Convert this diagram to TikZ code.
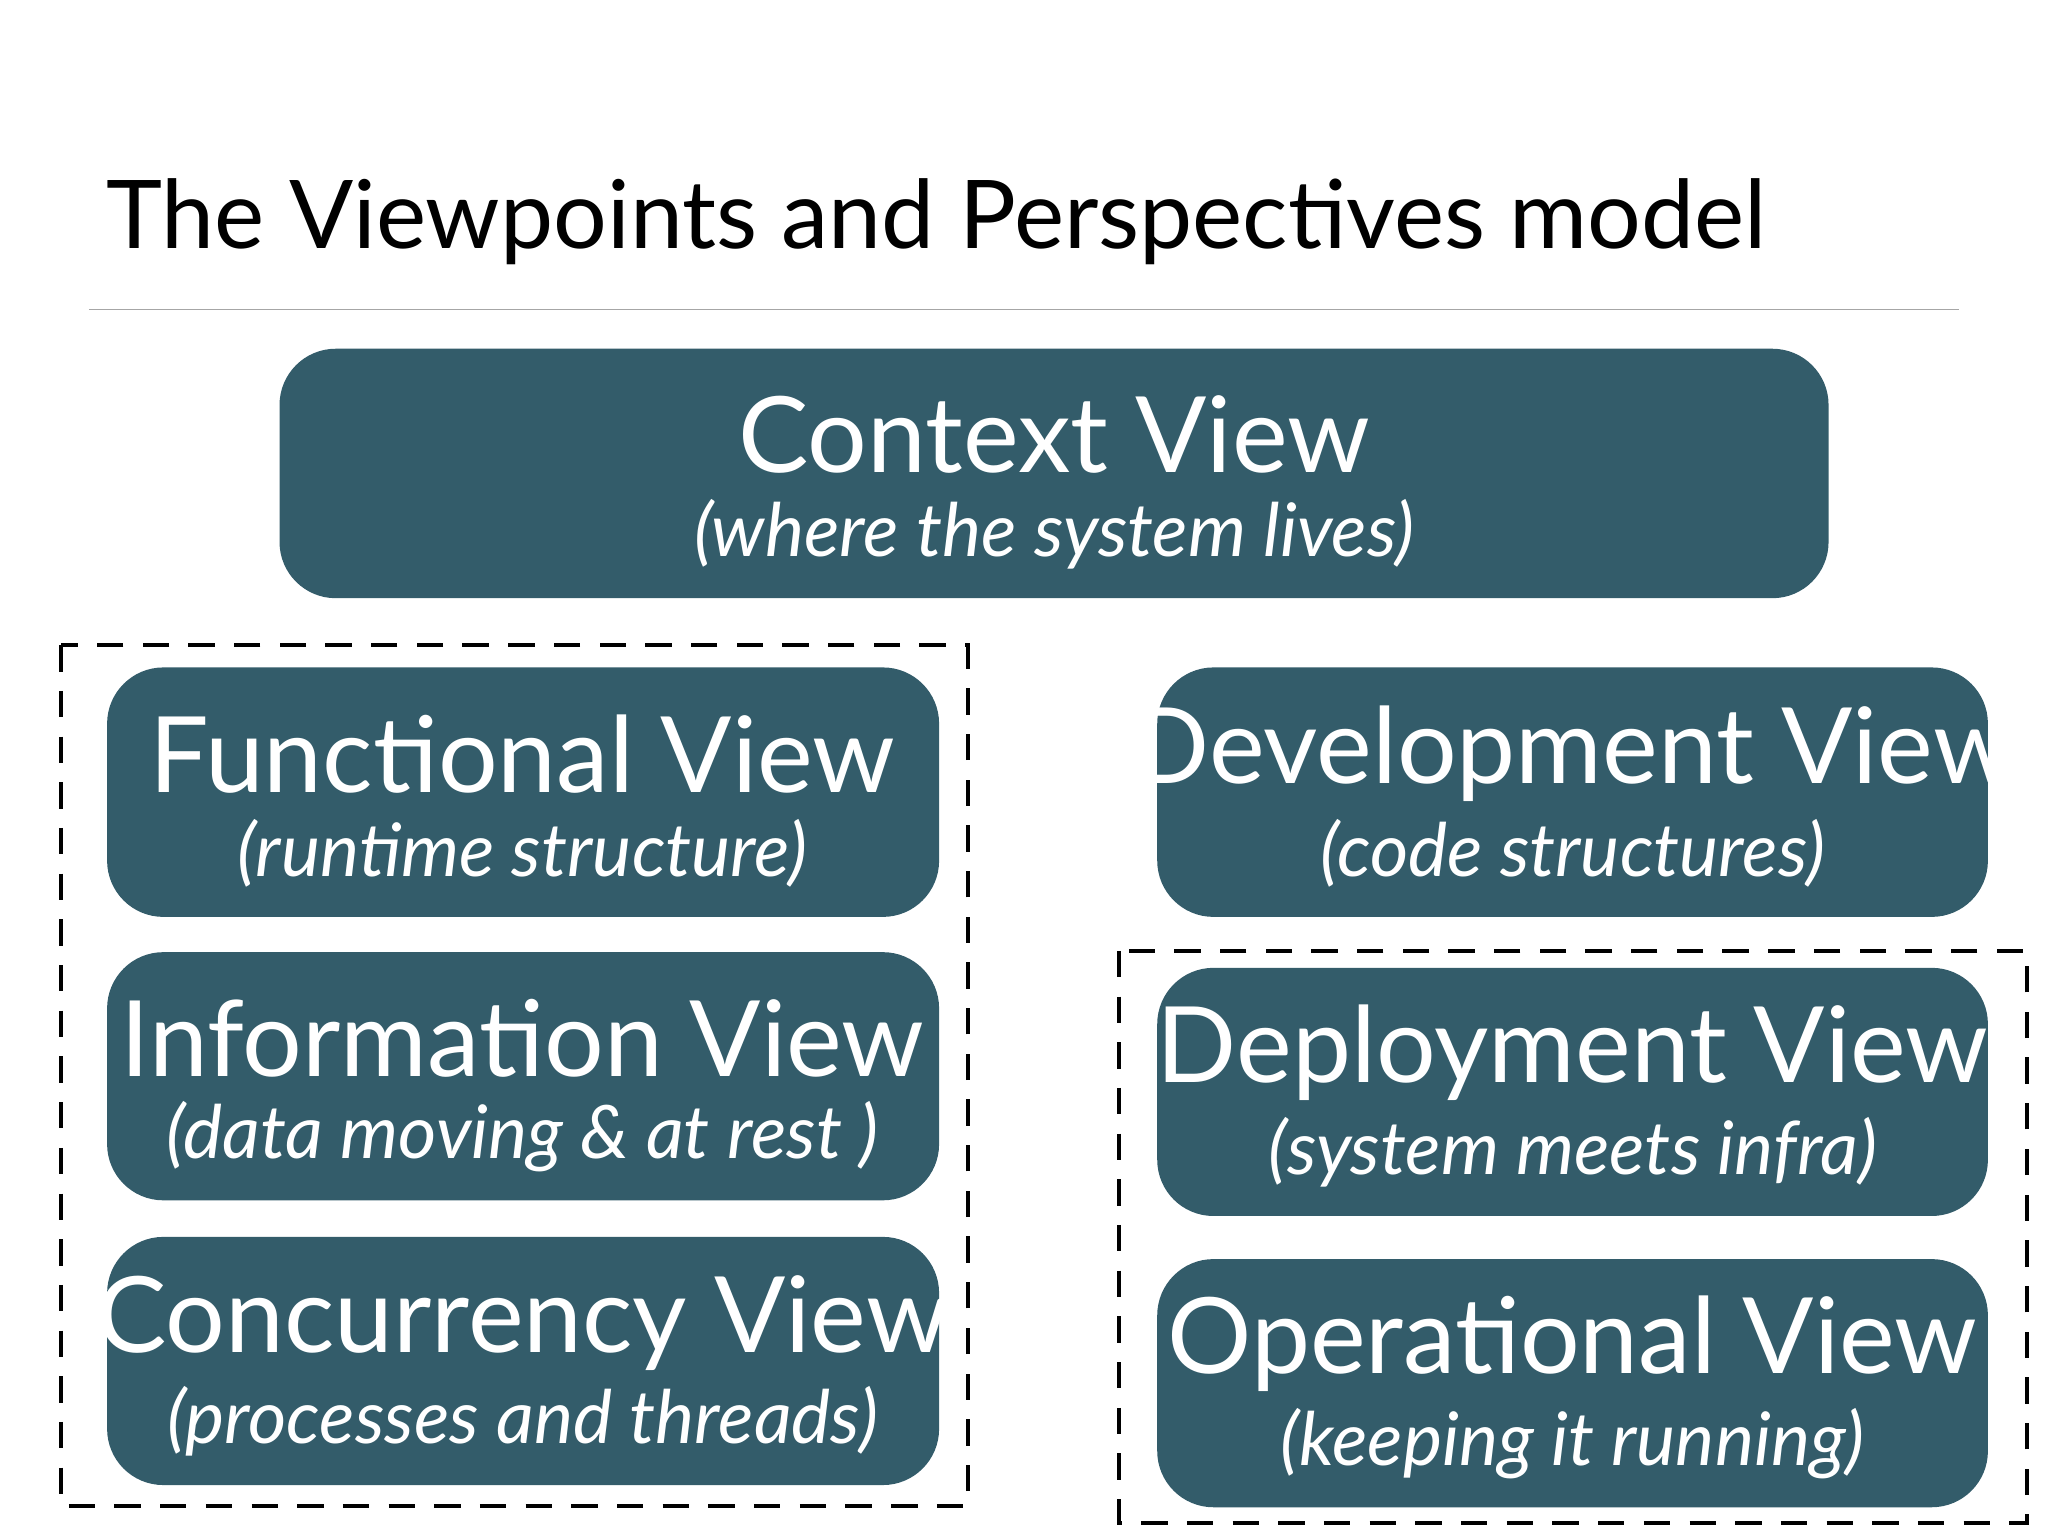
\documentclass[tikz,border=0pt]{standalone}
\usepackage{fontspec}
\setmainfont{Lato}
\begin{document}
\begin{tikzpicture}[x=0.013061cm,y=-0.013061cm,
  box/.style={fill=boxc,draw=none,rounded corners=16pt,text=white},
  dashbox/.style={draw=black,line width=1.2pt,dash pattern=on 7.5pt off 5.5pt},
  ttl/.style={text=white,font=\fontsize{30}{34}\selectfont},
  sub/.style={text=white,font=\fontsize{21}{25}\selectfont\itshape}]
\definecolor{boxc}{HTML}{335C6A}
\useasboundingbox (0,0) rectangle (1568,1176);
\node[anchor=base west,font=\fontsize{27}{32}\selectfont] (title) at (72,190) {The Viewpoints and Perspectives model};
\draw[gray!70,line width=0.5pt] (68,237) coordinate (l1) -- (1500,237) coordinate (l2);
\draw[dashbox] (47,494) rectangle (741,1153);
\draw[dashbox] (857,728) rectangle (1552,1166);
\fill[box] (214,267) rectangle (1400,458);
\node[ttl] (ctx) at (807,333) {Context View};
\node[sub] (ctxs) at (807,409) {(where the system lives)};
\fill[box] (82,511) rectangle (719,702);
\node[ttl] (fun) at (400,577) {Functional View};
\node[sub] (funs) at (400,653) {(runtime structure)};
\fill[box] (82,729) rectangle (719,919);
\node[ttl] (inf) at (400,795) {Information View};
\node[sub] (infs) at (400,870) {(data moving \& at rest )};
\fill[box] (82,947) rectangle (719,1137);
\node[ttl] (con) at (400,1013) {Concurrency View};
\node[sub] (cons) at (400,1088) {(processes and threads)};
\fill[box] (886,511) rectangle (1522,702);
\node[ttl] (dev) at (1204,577) {Development View};
\node[sub] (devs) at (1204,653) {(code structures)};
\fill[box] (886,741) rectangle (1522,931);
\node[ttl] (dep) at (1204,806) {Deployment View};
\node[sub] (deps) at (1204,882) {(system meets infra)};
\fill[box] (886,964) rectangle (1522,1154);
\node[ttl] (ops) at (1204,1029) {Operational View};
\node[sub] (opss) at (1204,1105) {(keeping it running)};
\end{tikzpicture}
\end{document}
